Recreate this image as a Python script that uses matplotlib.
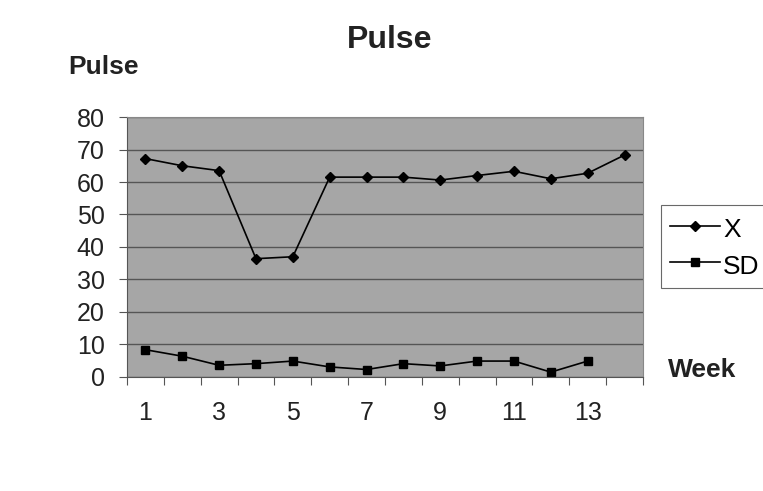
import matplotlib.pyplot as plt
from matplotlib.ticker import FixedLocator, NullFormatter

plt.rcParams['font.family'] = ['Liberation Sans', 'DejaVu Sans']

weeks = list(range(1, 15))
x_mean = [67.2, 65.0, 63.5, 36.4, 37.0, 61.5, 61.5, 61.5, 60.6, 62.0, 63.3, 61.0, 62.7, 68.3]
sd_weeks = list(range(1, 14))
sd_vals = [8.4, 6.4, 3.6, 4.1, 4.9, 3.1, 2.3, 4.1, 3.4, 4.9, 4.9, 1.5, 4.9]
tick_labels = ['1', '3', '5', '7', '9', '11', '13']

fig = plt.figure(figsize=(7.63, 4.91), dpi=100)
ax = fig.add_axes([0.1664, 0.2322, 0.6763, 0.5295])
ax.set_facecolor('#a6a6a6')

ax.plot(weeks, x_mean, color='black', lw=1.2, marker='D', ms=5, label='X')
ax.plot(sd_weeks, sd_vals, color='black', lw=1.2, marker='s', ms=6, label='SD')

ax.set_xlim(0.5, 14.5)
ax.set_ylim(0, 80)
ax.set_yticks(range(0, 81, 10))
ax.yaxis.grid(True, color='#555555', lw=1.0)
ax.set_axisbelow(True)

# category boundaries get ticks, odd weeks get labels
ax.xaxis.set_major_locator(FixedLocator([w + 0.5 for w in range(0, 15)]))
ax.xaxis.set_major_formatter(NullFormatter())
ax.xaxis.set_minor_locator(FixedLocator([1, 3, 5, 7, 9, 11, 13]))
ax.set_xticklabels(tick_labels, minor=True)
ax.tick_params(axis='x', which='major', length=6, direction='out', color='#555555')
ax.tick_params(axis='x', which='minor', length=0, pad=17, labelsize=18, labelcolor='#222222')
ax.tick_params(axis='y', length=6, direction='out', color='#555555', labelsize=18,
               labelcolor='#222222', pad=10)

for s in ['top', 'right']:
    ax.spines[s].set_color('#888888')
for s in ['left', 'bottom']:
    ax.spines[s].set_color('#555555')

fig.text(0.511, 0.918, 'Pulse', ha='center', va='center', fontsize=23, fontweight='bold', color='#222222')
fig.text(0.089, 0.864, 'Pulse', ha='left', va='center', fontsize=19, fontweight='bold', color='#222222')
fig.text(0.876, 0.247, 'Week', ha='left', va='center', fontsize=19, fontweight='bold', color='#222222')

leg = fig.legend(loc='upper left', bbox_to_anchor=(0.866, 0.582), fontsize=19, frameon=True,
                 fancybox=False, edgecolor='#444444', handlelength=1.9, handletextpad=0.12,
                 handleheight=1.2, borderpad=0.35, labelspacing=0.35, borderaxespad=0)
leg.get_frame().set_linewidth(0.8)

fig.savefig('out.png', dpi=100)
